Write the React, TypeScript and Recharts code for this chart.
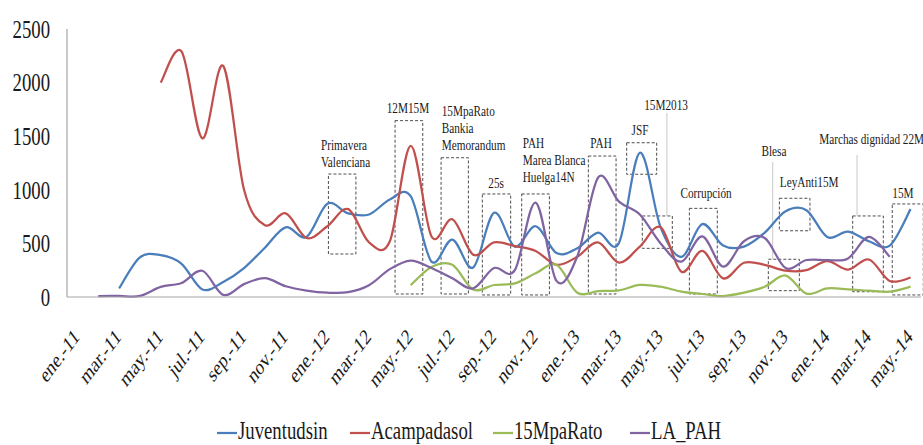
import React from 'react'
import {
  LineChart,
  Line,
  XAxis,
  YAxis,
  ReferenceArea,
  ReferenceLine,
  ReferenceDot,
  Legend,
} from 'recharts'

// meses (ene-11 .. may-14)
const months = [
  'ene.-11', 'feb.-11', 'mar.-11', 'abr.-11', 'may.-11', 'jun.-11', 'jul.-11', 'ago.-11', 'sep.-11', 'oct.-11', 'nov.-11', 'dic.-11',
  'ene.-12', 'feb.-12', 'mar.-12', 'abr.-12', 'may.-12', 'jun.-12', 'jul.-12', 'ago.-12', 'sep.-12', 'oct.-12', 'nov.-12', 'dic.-12',
  'ene.-13', 'feb.-13', 'mar.-13', 'abr.-13', 'may.-13', 'jun.-13', 'jul.-13', 'ago.-13', 'sep.-13', 'oct.-13', 'nov.-13', 'dic.-13',
  'ene.-14', 'feb.-14', 'mar.-14', 'abr.-14', 'may.-14',
]

const juventudsin = [
  null, null, 80, 370, 390, 310, 70, 140, 270, 460, 650, 560,
  870, 780, 770, 910, 940, 330, 535, 275, 785, 470, 660, 410,
  455, 600, 505, 1345, 650, 375, 680, 480, 470, 600, 800, 810,
  560, 610, 520, 480, 820,
]

const acampadasol = [
  null, null, null, null, 2000, 2290, 1480, 2155, 1000, 670, 780, 550,
  660, 820, 510, 520, 1410, 565, 725, 395, 510, 475, 430, 300,
  376, 510, 320, 470, 650, 236, 430, 174, 320, 300, 245, 250,
  335, 255, 350, 150, 180,
]

const mpaRato = [
  null, null, null, null, null, null, null, null, null, null, null, null,
  null, null, null, null, 110, 280, 300, 70, 112, 127, 221, 300,
  40, 55, 62, 112, 96, 50, 28, 9, 40, 96, 200, 32,
  80, 72, 59, 50, 96,
]

const laPah = [
  null, 8, 10, 10, 95, 130, 245, 20, 120, 175, 100, 60,
  40, 45, 110, 260, 340, 270, 175, 80, 270, 250, 880, 150,
  380, 1115, 890, 770, 500, 330, 565, 283, 520, 550, 270, 345,
  345, 360, 560, 375, null,
]

const yTicks = [0, 500, 1000, 1500, 2000, 2500]
const xTicks = months.map((_, i) => i).filter((i) => i % 2 === 0)

const series = [
  { key: 'juv', name: 'Juventudsin', color: '#4a7ebb', values: juventudsin },
  { key: 'aca', name: 'Acampadasol', color: '#c0504d', values: acampadasol },
  { key: 'mpa', name: '15MpaRato', color: '#9bbb59', values: mpaRato },
  { key: 'pah', name: 'LA_PAH', color: '#8064a2', values: laPah },
]

// cajas de eventos (coordenadas en unidades de datos)
type Note = {
  lines: string[]
  x1: number
  x2: number
  y1: number
  y2: number
  lx: number
  ly: number
  anchor: 'start' | 'middle'
  leader?: [number, number, number]
}

const notes: Note[] = [
  { lines: ['Primavera', 'Valenciana'], x1: 12.05, x2: 13.37, y1: 401, y2: 1147, lx: 11.69, ly: 1371, anchor: 'start' },
  { lines: ['12M15M'], x1: 15.25, x2: 16.58, y1: 28, y2: 1645, lx: 15.87, ly: 1716, anchor: 'middle' },
  { lines: ['15MpaRato', 'Bankia', 'Memorandum'], x1: 17.46, x2: 18.77, y1: 28, y2: 1299, lx: 17.49, ly: 1688, anchor: 'start' },
  { lines: ['25s'], x1: 19.44, x2: 20.8, y1: 19, y2: 961, lx: 20.1, ly: 1017, anchor: 'middle' },
  { lines: ['PAH', 'Marea Blanca', 'Huelga14N'], x1: 21.33, x2: 22.66, y1: 19, y2: 961, lx: 21.38, ly: 1390, anchor: 'start' },
  { lines: ['PAH'], x1: 24.53, x2: 25.86, y1: 28, y2: 1315, lx: 25.14, ly: 1390, anchor: 'middle' },
  { lines: ['JSF'], x1: 26.37, x2: 27.81, y1: 1145, y2: 1439, lx: 27.01, ly: 1511, anchor: 'middle' },
  { lines: ['15M2013'], x1: 27.12, x2: 28.56, y1: 454, y2: 756, lx: 28.26, ly: 1744, anchor: 'middle', leader: [28.3, 1716, 756] },
  { lines: ['Corrupción'], x1: 29.38, x2: 30.72, y1: 28, y2: 827, lx: 30.18, ly: 923, anchor: 'middle' },
  { lines: ['Blesa'], x1: 33.17, x2: 34.66, y1: 59, y2: 352, lx: 33.44, ly: 1315, anchor: 'middle', leader: [33.38, 1259, 352] },
  { lines: ['LeyAnti15M'], x1: 33.7, x2: 35.17, y1: 618, y2: 921, lx: 35.13, ly: 1026, anchor: 'middle' },
  { lines: ['Marchas dignidad 22M'], x1: 37.22, x2: 38.69, y1: 49, y2: 756, lx: 38.13, ly: 1427, anchor: 'middle', leader: [37.43, 1325, 756] },
  { lines: ['15M'], x1: 39.12, x2: 40.61, y1: 19, y2: 868, lx: 39.63, ly: 923, anchor: 'middle' },
]

const FONT = '"Liberation Serif", "Times New Roman", serif'
const INK = '#1a1a1a'
// the source picture is squeezed horizontally, so text is scaled the same way
const SQUEEZE = 0.75
const textStyle = { fontFamily: FONT }

// Excel-like smoothed line (Catmull-Rom through every point)
const excelSmooth = (context: any) => {
  let pts: number[][] = []
  return {
    areaStart() {},
    areaEnd() {},
    lineStart() {
      pts = []
    },
    point(x: number, y: number) {
      pts.push([+x, +y])
    },
    lineEnd() {
      const n = pts.length
      if (!n) return
      context.moveTo(pts[0][0], pts[0][1])
      if (n === 1) {
        context.lineTo(pts[0][0], pts[0][1])
        return
      }
      for (let i = 0; i < n - 1; i++) {
        const p0 = pts[i - 1] || pts[i]
        const p1 = pts[i]
        const p2 = pts[i + 1]
        const p3 = pts[i + 2] || p2
        context.bezierCurveTo(
          p1[0] + (p2[0] - p0[0]) / 6,
          p1[1] + (p2[1] - p0[1]) / 6,
          p2[0] - (p3[0] - p1[0]) / 6,
          p2[1] - (p3[1] - p1[1]) / 6,
          p2[0],
          p2[1],
        )
      }
    },
  }
}

function XTick({ x, y, payload }: any) {
  return (
    <text
      transform={`translate(${x + 3},${y + 33}) scale(${SQUEEZE},1) rotate(-45)`}
      textAnchor="end"
      fontSize={22}
      style={textStyle}
      fill={INK}
    >
      {months[payload.value]}
    </text>
  )
}

function YTick({ x, y, payload }: any) {
  return (
    <text
      transform={`translate(${x},${y}) scale(${SQUEEZE},1)`}
      textAnchor="end"
      dy="0.35em"
      fontSize={25}
      style={textStyle}
      fill={INK}
    >
      {payload.value}
    </text>
  )
}

function NoteLabel({ cx, cy, note }: { cx: number; cy: number; note: Note }) {
  return (
    <text
      transform={`translate(${cx},${cy}) scale(${SQUEEZE},1)`}
      textAnchor={note.anchor}
      fontSize={15}
      style={textStyle}
      fill={INK}
    >
      {note.lines.map((l, i) => (
        <tspan key={i} x={0} dy={i === 0 ? 0 : 17}>
          {l}
        </tspan>
      ))}
    </text>
  )
}

const legendX = [217, 350, 493, 630]

function LegendContent() {
  return (
    <svg width={923} height={30} style={{ display: 'block' }}>
      {series.map((s, i) => (
        <g key={s.key} transform={`translate(${legendX[i]},0)`}>
          <line x1={0} x2={20} y1={18} y2={18} stroke={s.color} strokeWidth={2.25} />
          <text
            transform={`translate(21,24) scale(${SQUEEZE},1)`}
            fontSize={25}
            style={textStyle}
            fill={INK}
          >
            {s.name}
          </text>
        </g>
      ))}
    </svg>
  )
}

export default function App() {
  const data = months.map((m, i) => {
    const row: Record<string, any> = { idx: i, month: m }
    series.forEach((s) => {
      row[s.key] = s.values[i]
    })
    return row
  })

  return (
    <div style={{ position: 'absolute', left: 0, top: 0, width: 923, height: 445, background: '#fff' }}>
      <LineChart width={923} height={445} data={data} margin={{ top: 29, right: 2, bottom: 0, left: 0 }}>
        <XAxis
          type="number"
          dataKey="idx"
          domain={[-0.5, 40.5]}
          ticks={xTicks}
          interval={0}
          tick={<XTick />}
          tickLine={false}
          axisLine={{ stroke: '#a6a6a6', strokeWidth: 1.2 }}
          height={118}
        />
        <YAxis
          domain={[0, 2500]}
          ticks={yTicks}
          interval={0}
          width={67}
          tick={<YTick />}
          tickLine={false}
          tickMargin={11}
          axisLine={{ stroke: '#a6a6a6', strokeWidth: 1.2 }}
        />
        {notes.map((n, i) => (
          <ReferenceArea
            key={`area-${i}`}
            x1={n.x1}
            x2={n.x2}
            y1={n.y1}
            y2={n.y2}
            fill="none"
            stroke="#4d4d4d"
            strokeWidth={1}
            strokeDasharray="3 2"
            ifOverflow="visible"
          />
        ))}
        {notes
          .filter((n) => n.leader)
          .map((n, i) => (
            <ReferenceLine
              key={`lead-${i}`}
              segment={[
                { x: n.leader![0], y: n.leader![1] },
                { x: n.leader![0], y: n.leader![2] },
              ]}
              stroke="#c8c8c8"
              strokeWidth={1}
              ifOverflow="visible"
            />
          ))}
        {series.map((s) => (
          <Line
            key={s.key}
            dataKey={s.key}
            name={s.name}
            type={excelSmooth as any}
            stroke={s.color}
            strokeWidth={2.25}
            dot={false}
            activeDot={false}
            isAnimationActive={false}
          />
        ))}
        {notes.map((n, i) => (
          <ReferenceDot
            key={`label-${i}`}
            x={n.lx}
            y={n.ly}
            r={0}
            ifOverflow="visible"
            shape={(p: any) => <NoteLabel cx={p.cx} cy={p.cy} note={n} />}
          />
        ))}
        <Legend
          verticalAlign="bottom"
          align="left"
          height={30}
          width={923}
          wrapperStyle={{ left: 0, bottom: 0 }}
          content={() => <LegendContent />}
        />
      </LineChart>
    </div>
  )
}
